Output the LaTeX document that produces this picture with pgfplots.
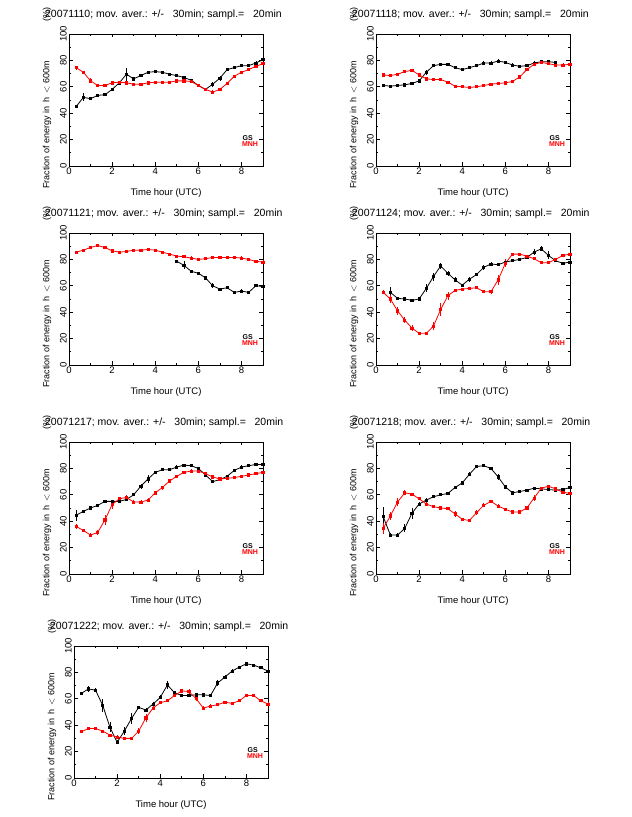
\documentclass[border=0pt]{standalone}
\usepackage{fontspec}
\setmainfont{Liberation Sans}
\usepackage{pgfplots}
\usepackage{pgfplotstable}
\pgfplotsset{compat=1.18}

\pgfplotstableread{
x g ge m me
0.333 45 1.2 74.5 1.5
0.667 52 3 71 1.2
1.000 51 1.2 64.5 2
1.333 53.5 1.2 61 1.2
1.667 54 1.2 61 1.2
2.000 58 1.2 63 1.2
2.333 63 1.2 63.5 1.2
2.667 69.5 5 63 1.2
3.000 66 1.2 62 1.2
3.333 68.5 1.2 62 1.2
3.667 71 1.2 63 1.2
4.000 71.5 1.2 63.5 1.2
4.333 71 1.2 63.5 1.2
4.667 69.5 1.2 63.5 1.2
5.000 68.5 1.2 64.5 1.2
5.333 67 1.2 64.5 1.2
5.667 65 1.2 64 1.2
6.000 61 1.2 61 1.2
6.333 58 1.2 58 1.2
6.667 62 2 56 1.2
7.000 66.5 2 58 1.2
7.333 73 1.2 62.5 1.2
7.667 74.5 1.2 68 1.2
8.000 76 1.2 71 1.2
8.333 76 1.2 73 1.2
8.667 78 1.2 75.5 1.2
9.000 80.5 1.2 77.5 1.2
}\tA

\pgfplotstableread{
x g ge m me
0.333 61 1.2 69 1.2
0.667 60.5 1.2 68.5 1.2
1.000 61 1.2 69.5 1.2
1.333 61.5 1.2 71.5 1.2
1.667 62.5 1.2 72.5 1.2
2.000 64.5 1.2 69 1.2
2.333 71 2 66 1.2
2.667 76 1.2 65.5 1.2
3.000 77 1.2 65.5 1.2
3.333 77 1.2 63.5 1.2
3.667 74.5 1.2 60.5 1.2
4.000 73 1.2 60 1.2
4.333 74.5 1.2 59.5 1.2
4.667 76 1.2 60 1.2
5.000 78 1.2 61 1.2
5.333 78 1.2 62 1.2
5.667 79.5 1.2 62.5 1.2
6.000 78.5 1.2 63 1.2
6.333 76.5 1.2 64 1.2
6.667 75.5 1.2 67.5 1.2
7.000 76 1.2 73 1.2
7.333 78 1.2 77 1.2
7.667 79 1.2 78.5 1.2
8.000 79 1.2 77.5 1.2
8.333 78.5 1.2 76.5 1.2
8.667 nan 0 76.5 1.2
9.000 nan 0 77 1.2
}\tB

\pgfplotstableread{
x g ge m me
0.333 nan 0 85.5 1.2
0.667 nan 0 87 1.2
1.000 nan 0 89 1.2
1.333 nan 0 90.5 1.2
1.667 nan 0 89 1.2
2.000 nan 0 86.5 1.2
2.333 nan 0 85.5 1.2
2.667 nan 0 86 1.2
3.000 nan 0 87 1.2
3.333 nan 0 87 1.2
3.667 nan 0 87.5 1.2
4.000 nan 0 87 1.2
4.333 nan 0 85.5 1.2
4.667 nan 0 84 1.2
5.000 78.5 1.2 82.5 1.2
5.333 75.5 3 82 1.2
5.667 71 1.2 81 1.2
6.000 69.5 1.2 80 1.2
6.333 66 1.2 80.5 1.2
6.667 60 2 81.5 1.2
7.000 57.5 1.2 81.5 1.2
7.333 58.5 1.2 81.5 1.2
7.667 55 1.2 81.5 1.2
8.000 56 1.2 81 1.2
8.333 55 1.2 80 1.2
8.667 60 1.2 78.5 1.2
9.000 59.5 1.2 78 1.2
}\tC

\pgfplotstableread{
x g ge m me
0.333 nan 0 55 1.5
0.667 55 4 50 3
1.000 50.5 1.2 41 3
1.333 50 1.2 34 2
1.667 49 1.2 28 2
2.000 50 1.2 24 1.2
2.333 58 3 24 1.2
2.667 67 3 29.5 3
3.000 75 2 42 5
3.333 69.5 2 52.5 3
3.667 64.5 2 56.5 1.2
4.000 60.5 1.2 57.5 1.2
4.333 65 2 58 1.2
4.667 68.5 1.2 58.5 1.2
5.000 74 2 55.5 1.2
5.333 76.5 1.2 55.5 1.5
5.667 76 1.2 64.5 4
6.000 78 1.2 77 3
6.333 79 1.2 84 1.2
6.667 80 1.2 84 1.2
7.000 81.5 1.2 82.5 1.2
7.333 85.5 2 80.5 1.2
7.667 88 2 77.5 1.2
8.000 83 3 77.5 1.2
8.333 79 1.2 80 1.2
8.667 77 1.2 83 1.2
9.000 78 1.2 84 1.2
}\tD

\pgfplotstableread{
x g ge m me
0.333 44.5 4 36 2
0.667 47.5 1.2 33 1.2
1.000 50 1.2 29.5 1.2
1.333 52 1.2 31.5 2
1.667 55 1.2 41 4
2.000 55 1.2 52.5 3
2.333 55 1.2 57 1.5
2.667 56.5 1.2 58 1.5
3.000 60 1.2 54.5 1.2
3.333 66.5 2 54.5 1.2
3.667 72 3 56 1.2
4.000 77 1.2 61.5 1.5
4.333 79 1.2 65.5 1.5
4.667 79 1.2 70.5 1.2
5.000 81 1.2 74 1.2
5.333 82.5 1.2 77 1.2
5.667 82 1.2 78 1.2
6.000 80 1.2 78 1.2
6.333 75 1.2 76 1.2
6.667 70 1.2 73.5 1.2
7.000 71.5 1.2 72 1.2
7.333 74 1.2 72.5 1.2
7.667 78.5 1.2 73 1.2
8.000 81 1.2 74 1.2
8.333 82 1.2 75 1.2
8.667 83 1.2 76 1.2
9.000 83 1.2 77 1.2
}\tE

\pgfplotstableread{
x g ge m me
0.333 43.5 7 34.5 4
0.667 29.5 1.2 44 3
1.000 29.5 1.2 54.5 3
1.333 34.5 3 61.5 2
1.667 46 4 60.5 1.2
2.000 53 1.2 57 1.2
2.333 56 1.2 53 1.2
2.667 58.5 1.2 51 1.2
3.000 60 1.2 50 1.2
3.333 61 1.2 49.5 1.2
3.667 65.5 1.2 45.5 2
4.000 69 1.5 41.5 1.2
4.333 75.5 1.5 40.5 1.2
4.667 81.5 1.2 46.5 2
5.000 82 1.2 52 1.5
5.333 80 1.2 55 1.2
5.667 73.5 2 51.5 1.2
6.000 66 1.5 49 1.2
6.333 61.5 1.2 47 1.2
6.667 62.5 1.2 47 1.2
7.000 63.5 1.2 50 1.5
7.333 65 1.2 57.5 2
7.667 64.5 1.2 65 1.2
8.000 64 1.2 66.5 1.2
8.333 63.5 1.2 64.5 1.2
8.667 64 1.2 62 1.2
9.000 65.5 1.2 61 1.2
}\tF

\pgfplotstableread{
x g ge m me
0.333 64 1.2 35 1.2
0.667 67.5 2 37.5 1.2
1.000 66.5 1.5 37.5 1.2
1.333 55 5 35.5 1.2
1.667 38.5 4 32.5 1.2
2.000 27 1.5 31 1.2
2.333 35.5 3 30 1.2
2.667 45 4 30 1.2
3.000 53.5 1.2 35.5 2
3.333 51.5 1.2 45.5 3
3.667 56 1.2 53 1.5
4.000 61 1.5 57 1.2
4.333 70.5 3 58.5 1.2
4.667 64.5 1.2 62.5 1.2
5.000 62.5 1.2 66 1.2
5.333 62.5 1.2 65.5 2
5.667 63 1.2 60 2
6.000 63 1.2 53 1.2
6.333 62.5 1.2 54.5 1.2
6.667 72 2 55.5 1.2
7.000 76.5 1.2 57.5 1.2
7.333 81 1.2 56.5 1.2
7.667 84 1.2 58.5 1.2
8.000 86.5 1.2 62.5 1.2
8.333 85.5 1.2 62.5 1.2
8.667 83.5 1.2 58.5 1.2
9.000 81 1.2 56 1.2
}\tG

\tikzset{legGS/.style={anchor=west, inner sep=0pt, font=\fontsize{7}{8}\selectfont\bfseries}}

\pgfplotsset{
  panel/.style={
    scale only axis, width=194pt, height=132pt,
    anchor=south west,
    xmin=0, xmax=9, ymin=0, ymax=100,
    xtick={0,2,4,6,8}, minor xtick={1,3,5,7,9},
    ytick={0,20,40,60,80,100}, minor ytick={10,30,50,70,90},
    tick align=inside, major tick length=3.5pt, minor tick length=2pt,
    tick style={black, line width=0.6pt},
    axis line style={line width=0.8pt},
    /pgf/number format/assume math mode=true,
    tick label style={font=\fontsize{9.5}{10}\selectfont},
    yticklabel style={rotate=90, anchor=south, inner sep=2pt},
    xticklabel style={inner sep=2pt},
    xlabel={Time hour (UTC)},
    xlabel style={at={(rel axis cs:0.5,-0.205)}, anchor=center, font=\fontsize{9.5}{10}\selectfont},
    ylabel={Fraction\hspace{0.3em}of\hspace{0.3em}energy\hspace{0.3em}in\hspace{0.4em}h\hspace{0.4em}$<$\hspace{0.3em}600m},
    ylabel style={at={(rel axis cs:-0.113,0.31)}, rotate=0, anchor=center, font=\fontsize{9}{10}\selectfont},
    title style={at={(rel axis cs:-0.124,1.10)}, anchor=west, inner sep=0pt, font=\fontsize{10.5}{12}\selectfont},
    every axis plot/.append style={line width=0.8pt, mark=square*, mark size=1.1pt},
    error bars/y dir=both, error bars/y explicit, error bars/error mark=none,
    error bars/error bar style={line width=0.6pt},
    clip=false,
  },
}

\newcommand{\panel}[4]{%
  \begin{axis}[panel, at={(#1pt,#2pt)}, title={#3; mov. aver.: +/-\ \ \ 30min; sampl.=\ \ \ 20min}]
    \addplot[black, mark options={fill=black}] table[x=x, y=g, y error=ge] {#4};
    \addplot[red, mark options={fill=red}] table[x=x, y=m, y error=me] {#4};
    \node[legGS, text=black] at (axis cs:8.05,21.5) {GS};
    \node[legGS, text=red] at (axis cs:8.02,16.5) {MNH};
    \node[rotate=90, inner sep=0pt, font=\fontsize{9}{10}\selectfont] at (rel axis cs:-0.113,1.144) {(\%)};
  \end{axis}}

\begin{document}
\begin{tikzpicture}[x=1pt,y=1pt]
\useasboundingbox (0,0) rectangle (632,817);
\panel{69}{651}{20071110}{\tA}
\panel{376}{651}{20071118}{\tB}
\panel{69}{452}{20071121}{\tC}
\panel{376}{452}{20071124}{\tD}
\panel{69}{243}{20071217}{\tE}
\panel{376}{243}{20071218}{\tF}
\panel{74}{39}{20071222}{\tG}
\end{tikzpicture}
\end{document}
